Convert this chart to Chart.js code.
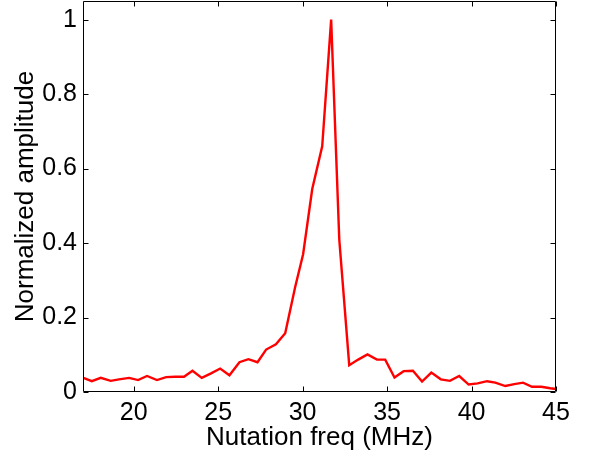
<!DOCTYPE html>
<html>
<head>
<meta charset="utf-8">
<script src="https://cdn.jsdelivr.net/npm/chart.js@4/dist/chart.umd.min.js"></script>
<style>
  html, body { margin: 0; padding: 0; background: #fff; overflow: hidden; }
  #wrap { position: absolute; left: 0; top: -20px; width: 596px; height: 480px; }
  canvas { display: block; }
</style>
</head>
<body>
<div id="wrap"><canvas id="c" width="596" height="480"></canvas></div>
<script>
// ---- data ----
const freqMHz = [17.02, 17.52, 18.05, 18.64, 19.13, 19.73, 20.26, 20.79, 21.38, 21.92,
  22.45, 22.98, 23.48, 24.03, 24.58, 25.12, 25.67, 26.26, 26.79, 27.33,
  27.84, 28.42, 28.97, 29.56, 30.03, 30.57, 31.16, 31.69, 32.17, 32.76,
  33.29, 33.84, 34.40, 34.89, 35.44, 35.98, 36.53, 37.07, 37.62, 38.18,
  38.72, 39.27, 39.83, 40.36, 40.92, 41.41, 42.00, 42.53, 43.05, 43.58,
  44.13, 44.66, 45.00];
const amplitude = [0.038, 0.029, 0.038, 0.030, 0.034, 0.038, 0.032, 0.043, 0.032, 0.040,
  0.041, 0.041, 0.057, 0.038, 0.050, 0.063, 0.045, 0.080, 0.088, 0.080,
  0.114, 0.128, 0.158, 0.282, 0.370, 0.545, 0.660, 1.000, 0.410, 0.072,
  0.087, 0.101, 0.087, 0.087, 0.039, 0.056, 0.057, 0.028, 0.052, 0.034,
  0.030, 0.043, 0.020, 0.023, 0.029, 0.025, 0.016, 0.021, 0.025, 0.014,
  0.014, 0.010, 0.008];
const xTicks = [20, 25, 30, 35, 40, 45];
const yTicks = [0, 0.2, 0.4, 0.6, 0.8, 1];
const xTitle = 'Nutation freq (MHz)';
const yTitle = 'Normalized amplitude';

const FONT = '"Liberation Sans", Arial, Helvetica, sans-serif';

const boxPlugin = {
  id: 'matlabBox',
  afterDatasetsDraw(chart) {
    const {ctx, chartArea: a, scales: {x, y}} = chart;
    const L = Math.round(a.left) + 0.5, R = Math.round(a.right) - 0.5;
    const T = Math.round(a.top) + 0.5, B = Math.round(a.bottom) - 0.5;
    const tl = 5;
    ctx.save();
    ctx.strokeStyle = '#000';
    ctx.lineWidth = 1;
    ctx.beginPath();
    ctx.rect(L, T, R - L, B - T);
    xTicks.forEach(v => {
      const px = Math.round(x.getPixelForValue(v)) + 0.5;
      ctx.moveTo(px, B); ctx.lineTo(px, B - tl);
      ctx.moveTo(px, T); ctx.lineTo(px, T + tl);
    });
    yTicks.forEach(v => {
      const py = Math.round(y.getPixelForValue(v)) + 0.5;
      ctx.moveTo(L, py); ctx.lineTo(L + tl, py);
      ctx.moveTo(R, py); ctx.lineTo(R - tl, py);
    });
    ctx.stroke();
    ctx.restore();
  }
};

new Chart(document.getElementById('c'), {
  type: 'line',
  data: {
    datasets: [{
      data: freqMHz.map((f, i) => ({x: f, y: amplitude[i]})),
      borderColor: '#ff0000',
      borderWidth: 2.4,
      pointRadius: 0,
      tension: 0,
      fill: false
    }]
  },
  options: {
    responsive: false,
    animation: false,
    devicePixelRatio: 1,
    layout: { padding: { left: 0, right: 40, top: 17, bottom: 0 } },
    plugins: { legend: { display: false }, tooltip: { enabled: false } },
    scales: {
      x: {
        type: 'linear', min: 17, max: 45,
        afterBuildTicks: s => { s.ticks = xTicks.map(v => ({value: v})); },
        afterFit: s => { s.height = 68; },
        grid: { display: false, drawTicks: false },
        border: { display: false },
        ticks: { color: '#000', font: { family: FONT, size: 25 }, padding: 6, maxRotation: 0,
                 callback: v => String(v) },
        title: { display: true, text: xTitle, color: '#000',
                 font: { family: FONT, size: 26, lineHeight: 1.2 }, padding: { top: 0, bottom: 7 } }
      },
      y: {
        type: 'linear', min: 0, max: 1.05,
        afterBuildTicks: s => { s.ticks = yTicks.map(v => ({value: v})); },
        afterFit: s => { s.width = 83; },
        grid: { display: false, drawTicks: false },
        border: { display: false },
        ticks: { color: '#000', font: { family: FONT, size: 25 }, padding: 6,
                 callback: v => String(v) },
        title: { display: true, text: yTitle, color: '#000',
                 font: { family: FONT, size: 26, lineHeight: 1.2 }, padding: { top: 10, bottom: 0 } }
      }
    }
  },
  plugins: [boxPlugin]
});
</script>
</body>
</html>
